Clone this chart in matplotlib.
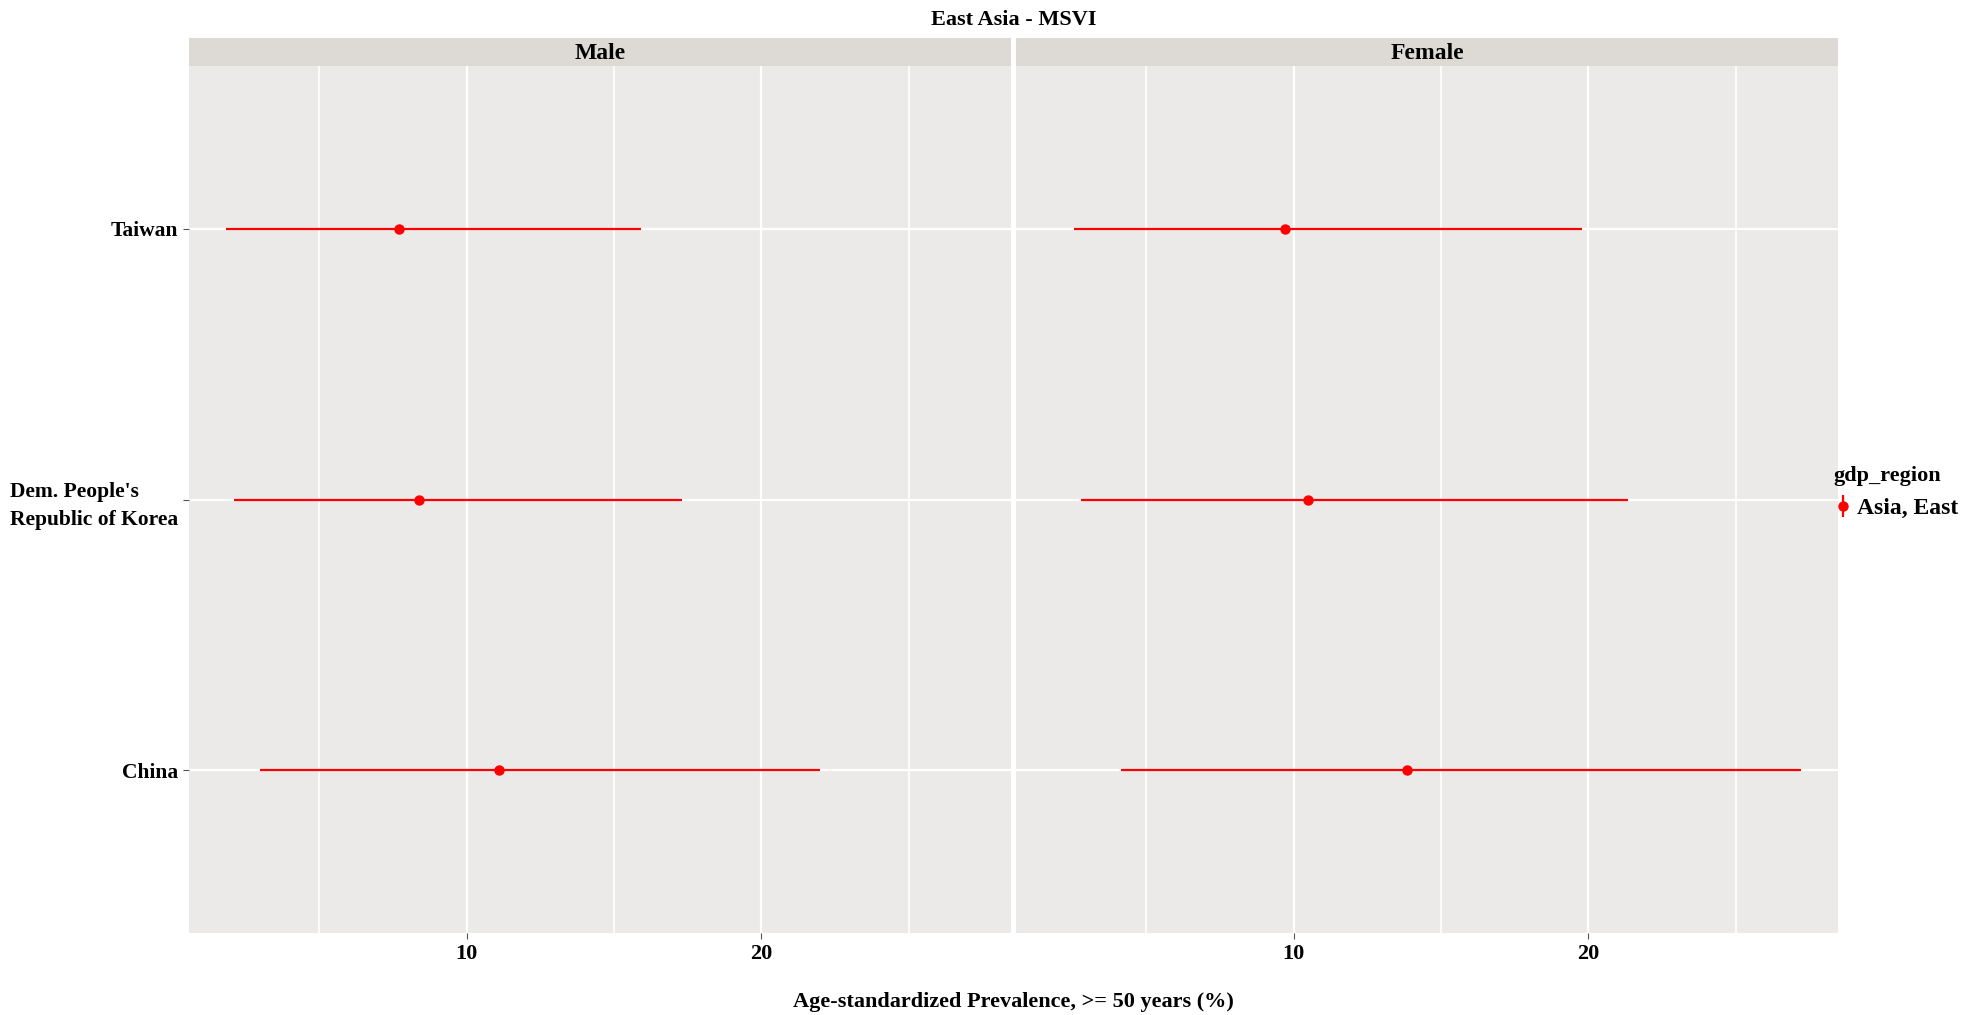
import matplotlib.pyplot as plt
from matplotlib.lines import Line2D

# data
countries = ["China", "Dem. People's\nRepublic of Korea", "Taiwan"]
sexes = ["Male", "Female"]
male_mid = [11.1, 8.4, 7.7]
male_lo = [3.0, 2.1, 1.85]
male_hi = [22.0, 17.3, 15.9]
female_mid = [13.85, 10.5, 9.7]
female_lo = [4.15, 2.8, 2.55]
female_hi = [27.2, 21.35, 19.8]

plt.rcParams['font.family'] = ['Liberation Serif', 'DejaVu Serif']
plt.rcParams['font.weight'] = 'bold'

panel_bg = '#EBEAE8'
strip_bg = '#DDDAD5'
fs = 16

fig = plt.figure(figsize=(19.77, 10.15), dpi=100)

lefts = [189 / 1977, 1016 / 1977]
width = 822 / 1977
bottom = 1 - 933 / 1015
height = (933 - 66) / 1015

all_lo = male_lo + female_lo
all_hi = male_hi + female_hi
span = max(all_hi) - min(all_lo)
xlim = (min(all_lo) - 0.05 * span, max(all_hi) + 0.05 * span)

series = [(male_mid, male_lo, male_hi), (female_mid, female_lo, female_hi)]
ypos = list(range(len(countries)))

for i, (sex, (mid, lo, hi)) in enumerate(zip(sexes, series)):
    ax = fig.add_axes([lefts[i], bottom, width, height])
    ax.set_facecolor(panel_bg)
    for s in ax.spines.values():
        s.set_visible(False)
    ax.set_xlim(xlim)
    ax.set_ylim(-0.6, len(countries) - 0.4)
    ax.set_xticks([10, 20])
    ax.set_xticks([5, 15, 25], minor=True)
    ax.set_yticks(ypos)
    ax.grid(True, which='major', color='white', linewidth=1.6)
    ax.grid(True, which='minor', axis='x', color='white', linewidth=1.2)
    ax.set_axisbelow(True)
    ax.tick_params(axis='both', which='major', length=4, color='#555555',
                   labelsize=fs, pad=4)
    ax.tick_params(axis='x', which='minor', length=0)
    if i == 0:
        ax.set_yticklabels(countries, fontsize=15.5, fontweight='bold',
                           linespacing=1.5)
        for lab in ax.get_yticklabels():
            lab.set_multialignment('left')
    else:
        ax.tick_params(axis='y', length=0, labelleft=False)
    for lab in ax.get_xticklabels():
        lab.set_fontweight('bold')
    ax.hlines(ypos, lo, hi, color='red', linewidth=1.6, zorder=3)
    ax.plot(mid, ypos, 'o', color='red', markersize=6.5, zorder=4)

    # strip
    sax = fig.add_axes([lefts[i], 1 - 66 / 1015, width, 28 / 1015])
    sax.set_facecolor(strip_bg)
    sax.set_xticks([])
    sax.set_yticks([])
    for s in sax.spines.values():
        s.set_visible(False)
    sax.text(0.5, 0.45, sex, ha='center', va='center', fontsize=17,
             fontweight='bold', transform=sax.transAxes)

fig.text(0.5 * (lefts[0] + lefts[1] + width), 1 - 20 / 1015, 'East Asia - MSVI',
         ha='center', va='center', fontsize=fs, fontweight='bold')
fig.text(0.5 * (lefts[0] + lefts[1] + width), 1 - 1002 / 1015,
         'Age-standardized Prevalence, >= 50 years (%)',
         ha='center', va='center', fontsize=fs, fontweight='bold')

key_line = Line2D([0], [0], color='red', marker='|', markersize=16,
                  markeredgewidth=1.6, linestyle='None')
key_dot = Line2D([0], [0], color='red', marker='o', markersize=6.5,
                 linestyle='None')
fig.legend([(key_line, key_dot)], ['Asia, East'], title='gdp_region',
           loc='center left', bbox_to_anchor=(1826 / 1977, 0.515),
           frameon=False, fontsize=17, title_fontsize=16,
           handletextpad=0.2, borderaxespad=0, borderpad=0.3,
           alignment='left', handlelength=0.8)

fig.savefig('out.png', dpi=100)
